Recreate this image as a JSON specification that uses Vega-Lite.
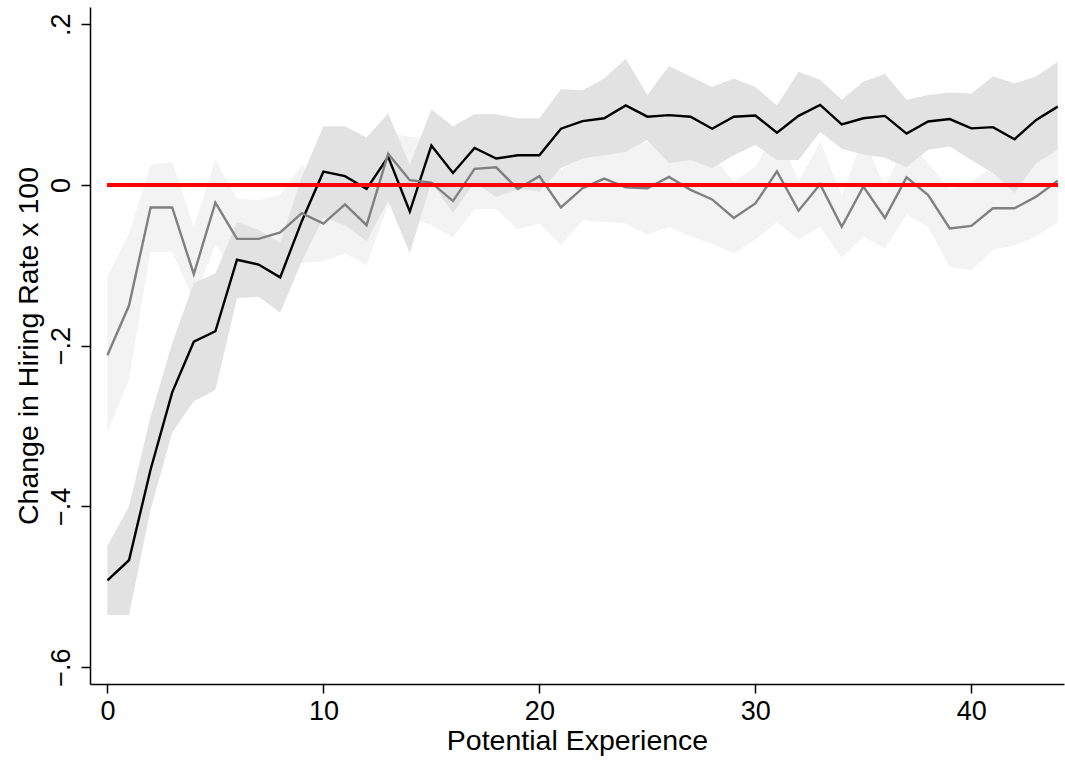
{
  "$schema": "https://vega.github.io/schema/vega-lite/v6.json",
  "width": 974,
  "height": 677,
  "autosize": {"type": "none"},
  "padding": {"left": 90, "top": 7, "right": 1, "bottom": 77},
  "background": "white",
  "config": {
    "view": {"stroke": null},
    "font": "Liberation Sans",
    "axis": {
      "grid": false,
      "domainColor": "#000000",
      "domainWidth": 1.5,
      "tickColor": "#000000",
      "tickWidth": 1.5,
      "tickSize": 9,
      "labelFont": "Liberation Sans",
      "titleFont": "Liberation Sans",
      "labelFontSize": 27,
      "titleFontSize": 28.5,
      "labelColor": "#000000",
      "titleColor": "#000000",
      "titleFontWeight": "normal"
    }
  },
  "data": {
    "values": [
      {"k": 0, "b": -0.492, "blo": -0.535, "bhi": -0.449, "g": -0.212, "glo": -0.308, "ghi": -0.114},
      {"k": 1, "b": -0.467, "blo": -0.535, "bhi": -0.400, "g": -0.150, "glo": -0.242, "ghi": -0.060},
      {"k": 2, "b": -0.354, "blo": -0.404, "bhi": -0.288, "g": -0.028, "glo": -0.083, "ghi": 0.025},
      {"k": 3, "b": -0.258, "blo": -0.308, "bhi": -0.197, "g": -0.028, "glo": -0.083, "ghi": 0.029},
      {"k": 4, "b": -0.195, "blo": -0.269, "bhi": -0.122, "g": -0.111, "glo": -0.143, "ghi": -0.052},
      {"k": 5, "b": -0.182, "blo": -0.255, "bhi": -0.110, "g": -0.022, "glo": -0.075, "ghi": 0.031},
      {"k": 6, "b": -0.093, "blo": -0.141, "bhi": -0.046, "g": -0.067, "glo": -0.110, "ghi": -0.017},
      {"k": 7, "b": -0.099, "blo": -0.139, "bhi": -0.056, "g": -0.067, "glo": -0.110, "ghi": -0.019},
      {"k": 8, "b": -0.115, "blo": -0.159, "bhi": -0.072, "g": -0.059, "glo": -0.100, "ghi": -0.012},
      {"k": 9, "b": -0.045, "blo": -0.095, "bhi": 0.010, "g": -0.035, "glo": -0.097, "ghi": 0.025},
      {"k": 10, "b": 0.0166, "blo": -0.040, "bhi": 0.073, "g": -0.048, "glo": -0.095, "ghi": 0.000},
      {"k": 11, "b": 0.011, "blo": -0.050, "bhi": 0.073, "g": -0.024, "glo": -0.085, "ghi": 0.035},
      {"k": 12, "b": -0.005, "blo": -0.070, "bhi": 0.059, "g": -0.050, "glo": -0.100, "ghi": 0.000},
      {"k": 13, "b": 0.035, "blo": -0.020, "bhi": 0.089, "g": 0.039, "glo": -0.025, "ghi": 0.065},
      {"k": 14, "b": -0.033, "blo": -0.085, "bhi": 0.025, "g": 0.006, "glo": -0.040, "ghi": 0.060},
      {"k": 15, "b": 0.049, "blo": 0.004, "bhi": 0.094, "g": 0.003, "glo": -0.050, "ghi": 0.056},
      {"k": 16, "b": 0.015, "blo": -0.035, "bhi": 0.073, "g": -0.020, "glo": -0.065, "ghi": 0.030},
      {"k": 17, "b": 0.046, "blo": 0.003, "bhi": 0.088, "g": 0.020, "glo": -0.030, "ghi": 0.065},
      {"k": 18, "b": 0.033, "blo": -0.015, "bhi": 0.088, "g": 0.022, "glo": -0.030, "ghi": 0.070},
      {"k": 19, "b": 0.037, "blo": -0.005, "bhi": 0.083, "g": -0.005, "glo": -0.055, "ghi": 0.045},
      {"k": 20, "b": 0.037, "blo": -0.008, "bhi": 0.083, "g": 0.011, "glo": -0.048, "ghi": 0.070},
      {"k": 21, "b": 0.070, "blo": 0.021, "bhi": 0.119, "g": -0.028, "glo": -0.075, "ghi": 0.019},
      {"k": 22, "b": 0.0795, "blo": 0.033, "bhi": 0.118, "g": -0.004, "glo": -0.044, "ghi": 0.036},
      {"k": 23, "b": 0.083, "blo": 0.037, "bhi": 0.1325, "g": 0.008, "glo": -0.046, "ghi": 0.062},
      {"k": 24, "b": 0.099, "blo": 0.041, "bhi": 0.157, "g": -0.003, "glo": -0.048, "ghi": 0.042},
      {"k": 25, "b": 0.085, "blo": 0.056, "bhi": 0.112, "g": -0.004, "glo": -0.062, "ghi": 0.054},
      {"k": 26, "b": 0.087, "blo": 0.027, "bhi": 0.148, "g": 0.010, "glo": -0.052, "ghi": 0.072},
      {"k": 27, "b": 0.085, "blo": 0.031, "bhi": 0.135, "g": -0.006, "glo": -0.064, "ghi": 0.052},
      {"k": 28, "b": 0.070, "blo": 0.021, "bhi": 0.122, "g": -0.018, "glo": -0.073, "ghi": 0.037},
      {"k": 29, "b": 0.085, "blo": 0.037, "bhi": 0.1325, "g": -0.041, "glo": -0.085, "ghi": 0.004},
      {"k": 30, "b": 0.0865, "blo": 0.050, "bhi": 0.122, "g": -0.023, "glo": -0.068, "ghi": 0.023},
      {"k": 31, "b": 0.065, "blo": 0.031, "bhi": 0.099, "g": 0.017, "glo": -0.046, "ghi": 0.070},
      {"k": 32, "b": 0.086, "blo": 0.031, "bhi": 0.141, "g": -0.032, "glo": -0.068, "ghi": 0.004},
      {"k": 33, "b": 0.0996, "blo": 0.066, "bhi": 0.131, "g": 0.001, "glo": -0.052, "ghi": 0.054},
      {"k": 34, "b": 0.0755, "blo": 0.045, "bhi": 0.106, "g": -0.052, "glo": -0.091, "ghi": -0.013},
      {"k": 35, "b": 0.083, "blo": 0.038, "bhi": 0.1285, "g": -0.002, "glo": -0.064, "ghi": 0.060},
      {"k": 36, "b": 0.086, "blo": 0.034, "bhi": 0.138, "g": -0.041, "glo": -0.079, "ghi": -0.003},
      {"k": 37, "b": 0.064, "blo": 0.022, "bhi": 0.106, "g": 0.0096, "glo": -0.037, "ghi": 0.056},
      {"k": 38, "b": 0.079, "blo": 0.044, "bhi": 0.112, "g": -0.0125, "glo": -0.052, "ghi": 0.027},
      {"k": 39, "b": 0.082, "blo": 0.048, "bhi": 0.115, "g": -0.054, "glo": -0.102, "ghi": -0.006},
      {"k": 40, "b": 0.0705, "blo": 0.031, "bhi": 0.114, "g": -0.051, "glo": -0.106, "ghi": 0.004},
      {"k": 41, "b": 0.072, "blo": 0.015, "bhi": 0.135, "g": -0.029, "glo": -0.081, "ghi": 0.023},
      {"k": 42, "b": 0.057, "blo": -0.010, "bhi": 0.1265, "g": -0.029, "glo": -0.075, "ghi": 0.017},
      {"k": 43, "b": 0.081, "blo": 0.027, "bhi": 0.135, "g": -0.0145, "glo": -0.064, "ghi": 0.035},
      {"k": 44, "b": 0.0975, "blo": 0.044, "bhi": 0.1535, "g": 0.0054, "glo": -0.046, "ghi": 0.045}
    ]
  },
  "encoding": {
    "x": {
      "field": "k",
      "type": "quantitative",
      "scale": {"domain": [-0.806, 44.29], "nice": false, "zero": false},
      "axis": {
        "values": [0, 10, 20, 30, 40],
        "title": "Potential Experience",
        "labelPadding": 5,
        "titlePadding": 2
      }
    }
  },
  "layer": [
    {
      "mark": {"type": "area", "color": "#f3f3f3", "opacity": 1},
      "encoding": {
        "y": {
          "field": "glo",
          "type": "quantitative",
          "scale": {"domain": [-0.621, 0.2215], "nice": false, "zero": false},
          "axis": {
            "values": [-0.6, -0.4, -0.2, 0, 0.2],
            "title": "Change in Hiring Rate x 100",
            "labelAngle": -90,
            "labelAlign": "center",
            "labelBaseline": "bottom",
            "labelPadding": 6,
            "titlePadding": 4,
            "labelExpr": "datum.value == 0 ? '0' : replace(format(datum.value, '.1f'), '0.', '.')"
          }
        },
        "y2": {"field": "ghi"}
      }
    },
    {
      "mark": {"type": "area", "color": "#e2e2e2", "opacity": 1},
      "encoding": {
        "y": {"field": "blo", "type": "quantitative"},
        "y2": {"field": "bhi"}
      }
    },
    {
      "mark": {"type": "line", "color": "#000000", "strokeWidth": 2.4},
      "encoding": {"y": {"field": "b", "type": "quantitative"}}
    },
    {
      "mark": {"type": "line", "color": "#808080", "strokeWidth": 2.4},
      "encoding": {"y": {"field": "g", "type": "quantitative"}}
    },
    {
      "mark": {"type": "rule", "color": "#ff0000", "strokeWidth": 2.4},
      "encoding": {
        "y": {"datum": 0},
        "x": {"datum": 0},
        "x2": {"datum": 44}
      }
    }
  ]
}
